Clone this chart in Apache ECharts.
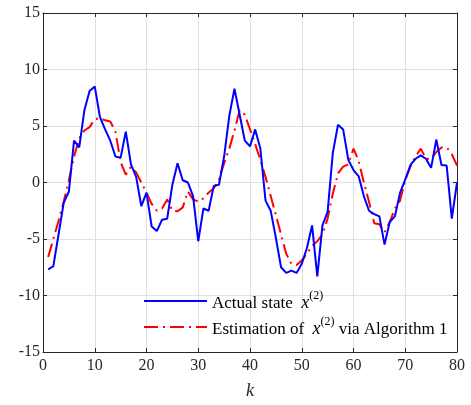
<!DOCTYPE html>
<html>
<head>
<meta charset="utf-8">
<script src="https://cdn.jsdelivr.net/npm/echarts@6/dist/echarts.min.js"></script>
<style>
html, body { margin: 0; padding: 0; background: #fff; }
#chart { width: 471px; height: 405px; }
</style>
</head>
<body>
<div id="chart"></div>
<script>
var steps = [];
for (var i = 1; i <= 80; i++) steps.push(i);

var actualState = [
    -7.7, -7.4, -4.6, -1.8, -0.8, 3.7, 3.1, 6.4, 8.1, 8.5,
    5.8, 4.7, 3.7, 2.3, 2.2, 4.5, 1.6, 0.5, -2.1, -0.9,
    -3.9, -4.3, -3.3, -3.2, -0.2, 1.7, 0.2, 0.0, -1.2, -5.2,
    -2.3, -2.5, -0.3, -0.2, 2.3, 5.9, 8.3, 6.0, 3.7, 3.2,
    4.7, 3.0, -1.6, -2.5, -4.9, -7.5, -8.0, -7.8, -8.0, -7.2,
    -5.8, -3.8, -8.3, -3.8, -2.6, 2.6, 5.1, 4.7, 2.0, 1.1,
    0.55, -1.2, -2.5, -2.8, -3.0, -5.5, -3.5, -3.0, -0.9, 0.25,
    1.55, 2.1, 2.4, 2.1, 1.3, 3.8, 1.55, 1.5, -3.2, 0.0
];

var estimation = [
    -6.6, -5.0, -3.4, -1.7, 0.2, 2.3, 3.9, 4.6, 4.9, 5.6,
    5.7, 5.5, 5.4, 4.5, 1.8, 0.7, 1.4, 0.9, 0.0, -0.9,
    -1.9, -2.5, -2.3, -1.5, -2.5, -2.55, -2.2, -0.8, -1.5, -1.7,
    -1.4, -0.9, -0.5, 0.25, 1.7, 3.0, 4.6, 6.4, 6.0, 4.7,
    3.4, 2.0, 0.5, -1.2, -2.9, -4.6, -6.3, -7.2, -7.3, -6.9,
    -6.3, -5.6, -5.2, -4.6, -3.2, -1.0, 0.8, 1.4, 1.6, 3.0,
    1.9, 0.0, -1.7, -3.6, -3.7, -4.4, -3.5, -2.3, -1.6, 0.2,
    1.4, 2.3, 3.0, 2.1, 2.1, 2.7, 3.1, 3.1, 2.5, 1.5
];

var xTicks = [0, 10, 20, 30, 40, 50, 60, 70, 80];
var yTicks = [-15, -10, -5, 0, 5, 10, 15];

function pairs(ys) {
    return steps.map(function (k, i) { return [k, ys[i]]; });
}

var FONT = '"Liberation Serif", "Times New Roman", serif';
var chart = echarts.init(document.getElementById('chart'));

var boxAxis = {
    axisLine: { show: true, onZero: false, lineStyle: { color: '#262626', width: 1 } },
    axisTick: { show: true, inside: true, length: 4, lineStyle: { color: '#262626' } },
    splitLine: { show: false },
    axisLabel: { show: false }
};

var option = {
    animation: false,
    backgroundColor: '#fff',
    grid: { left: 43, right: 14, top: 13, bottom: 45 },
    legend: {
        orient: 'vertical',
        left: 138,
        top: 285,
        itemWidth: 63,
        itemHeight: 14,
        itemGap: 4,
        itemStyle: { opacity: 0 },
        textStyle: {
            fontFamily: FONT, fontSize: 17, color: '#000',
            rich: {
                t: { fontFamily: FONT, fontSize: 17, color: '#000', verticalAlign: 'bottom', lineHeight: 22 },
                i: { fontFamily: FONT, fontSize: 18, fontStyle: 'italic', color: '#000', verticalAlign: 'bottom', lineHeight: 22 },
                s: { fontFamily: FONT, fontSize: 12, color: '#000', verticalAlign: 'top', lineHeight: 22, padding: [0, 0, 10, 0] }
            }
        },
        formatter: function (name) {
            if (name === 'actual') return '{t|Actual state  }{i|x}{s|(2)}';
            return '{t|Estimation of  }{i|x}{s|(2)}{t| via Algorithm 1}';
        },
        data: ['actual', 'estimation']
    },
    xAxis: [{
        type: 'value',
        min: xTicks[0],
        max: xTicks[xTicks.length - 1],
        interval: 10,
        name: 'k',
        nameLocation: 'middle',
        nameGap: 30,
        nameTextStyle: { fontFamily: FONT, fontSize: 18, fontStyle: 'italic', color: '#262626' },
        axisLine: { show: true, onZero: false, lineStyle: { color: '#262626', width: 1 } },
        axisTick: { show: true, inside: true, length: 4, lineStyle: { color: '#262626' } },
        axisLabel: { fontFamily: FONT, fontSize: 16, color: '#262626', margin: 6 },
        splitLine: { show: true, lineStyle: { color: '#e0e0e0', width: 1 } }
    }, Object.assign({
        type: 'value', position: 'top',
        min: xTicks[0], max: xTicks[xTicks.length - 1], interval: 10
    }, boxAxis)],
    yAxis: [{
        type: 'value',
        min: yTicks[0],
        max: yTicks[yTicks.length - 1],
        interval: 5,
        axisLine: { show: true, onZero: false, lineStyle: { color: '#262626', width: 1 } },
        axisTick: { show: true, inside: true, length: 4, lineStyle: { color: '#262626' } },
        axisLabel: { fontFamily: FONT, fontSize: 16, color: '#262626', margin: 3 },
        splitLine: { show: true, lineStyle: { color: '#e0e0e0', width: 1 } }
    }, Object.assign({
        type: 'value', position: 'right',
        min: yTicks[0], max: yTicks[yTicks.length - 1], interval: 5
    }, boxAxis)],
    series: [
        {
            name: 'actual',
            type: 'line',
            data: pairs(actualState),
            symbol: 'none',
            color: '#0000ff',
            lineStyle: { color: '#0000ff', width: 2 },
            z: 3
        },
        {
            name: 'estimation',
            type: 'line',
            data: pairs(estimation),
            symbol: 'none',
            color: '#ff0000',
            lineStyle: { color: '#ff0000', width: 2, type: [14, 5, 2, 5] },
            z: 2
        }
    ]
};
chart.setOption(option);

window.onresize = chart.resize;
</script>
</body>
</html>
